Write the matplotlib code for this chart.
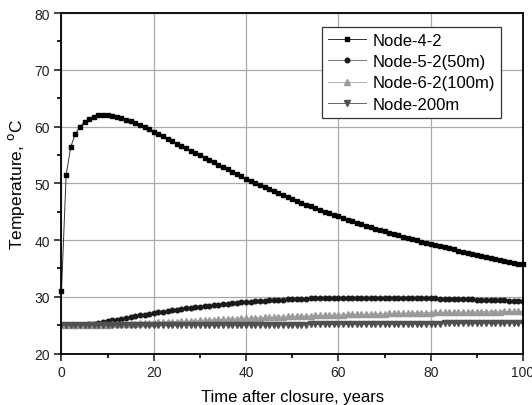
import matplotlib
matplotlib.use('Agg')
import matplotlib.pyplot as plt
from matplotlib.ticker import MultipleLocator
import numpy as np

plt.rcParams['font.family'] = ['Liberation Sans', 'DejaVu Sans']

years = np.arange(0, 101)

node_4_2 = [31.0, 51.4, 56.4, 58.7, 60.0, 60.85, 61.4, 61.75, 61.95, 62.0,
            61.95, 61.82, 61.64, 61.42, 61.17, 60.89, 60.58, 60.25, 59.9, 59.51,
            59.1, 58.68, 58.26, 57.84, 57.42, 57.0, 56.58, 56.16, 55.74, 55.32,
            54.9, 54.49, 54.08, 53.67, 53.26, 52.85, 52.44, 52.03, 51.62, 51.21,
            50.8, 50.42, 50.05, 49.68, 49.31, 48.95, 48.6, 48.25, 47.9, 47.56,
            47.23, 46.9, 46.57, 46.25, 45.94, 45.63, 45.32, 45.02, 44.73, 44.44,
            44.15, 43.87, 43.59, 43.32, 43.05, 42.79, 42.53, 42.27, 42.02, 41.77,
            41.53, 41.29, 41.05, 40.82, 40.59, 40.37, 40.15, 39.93, 39.72, 39.51,
            39.31, 39.11, 38.91, 38.72, 38.52, 38.33, 38.14, 37.95, 37.77, 37.58,
            37.4, 37.22, 37.04, 36.87, 36.69, 36.52, 36.35, 36.18, 36.02, 35.85,
            35.69]

node_5_2 = [25.0, 25.0, 25.0, 25.02, 25.05, 25.1, 25.18, 25.28, 25.4, 25.53,
            25.67, 25.82, 25.97, 26.12, 26.27, 26.42, 26.56, 26.7, 26.84, 26.97,
            27.1, 27.23, 27.36, 27.48, 27.6, 27.72, 27.83, 27.94, 28.04, 28.14,
            28.24, 28.34, 28.43, 28.52, 28.6, 28.68, 28.78, 28.86, 28.94, 29.02,
            29.09, 29.15, 29.21, 29.27, 29.32, 29.37, 29.42, 29.46, 29.5, 29.54,
            29.58, 29.61, 29.64, 29.67, 29.7, 29.72, 29.74, 29.76, 29.78, 29.79,
            29.8, 29.81, 29.82, 29.83, 29.83, 29.84, 29.84, 29.84, 29.84, 29.84,
            29.83, 29.83, 29.82, 29.81, 29.8, 29.79, 29.78, 29.77, 29.75, 29.74,
            29.72, 29.7, 29.68, 29.66, 29.64, 29.62, 29.6, 29.58, 29.56, 29.53,
            29.51, 29.49, 29.46, 29.44, 29.41, 29.39, 29.36, 29.34, 29.31, 29.29,
            29.26]

node_6_2 = [25.0, 25.0, 25.0, 25.0, 25.0, 25.01, 25.02, 25.03, 25.05, 25.07,
            25.09, 25.12, 25.15, 25.18, 25.21, 25.24, 25.28, 25.32, 25.36, 25.4,
            25.44, 25.48, 25.52, 25.56, 25.6, 25.64, 25.68, 25.72, 25.76, 25.8,
            25.84, 25.88, 25.92, 25.96, 26.0, 26.04, 26.08, 26.12, 26.15, 26.19,
            26.23, 26.26, 26.3, 26.33, 26.37, 26.4, 26.43, 26.46, 26.5, 26.53,
            26.56, 26.59, 26.62, 26.65, 26.67, 26.7, 26.73, 26.75, 26.78, 26.8,
            26.83, 26.85, 26.88, 26.9, 26.92, 26.94, 26.96, 26.98, 27.0, 27.02,
            27.04, 27.06, 27.08, 27.1, 27.12, 27.13, 27.15, 27.17, 27.18, 27.2,
            27.21, 27.23, 27.24, 27.26, 27.27, 27.28, 27.3, 27.31, 27.32, 27.33,
            27.35, 27.36, 27.37, 27.38, 27.39, 27.4, 27.41, 27.42, 27.43, 27.44,
            27.45]

node_200m = [25.0, 25.0, 25.0, 25.0, 25.0, 25.0, 25.0, 25.0, 25.0, 25.0,
             25.0, 25.0, 25.0, 25.0, 25.0, 25.0, 25.0, 25.0, 25.0, 25.0,
             25.0, 25.0, 25.0, 25.0, 25.0, 25.0, 25.0, 25.0, 25.0, 25.0,
             25.01, 25.01, 25.01, 25.02, 25.02, 25.02, 25.03, 25.03, 25.04, 25.04,
             25.05, 25.05, 25.06, 25.06, 25.07, 25.07, 25.08, 25.08, 25.09, 25.09,
             25.1, 25.1, 25.11, 25.11, 25.12, 25.12, 25.13, 25.13, 25.14, 25.14,
             25.15, 25.16, 25.16, 25.17, 25.17, 25.18, 25.18, 25.19, 25.2, 25.2,
             25.21, 25.21, 25.22, 25.23, 25.23, 25.24, 25.24, 25.25, 25.26, 25.26,
             25.27, 25.28, 25.28, 25.29, 25.3, 25.3, 25.31, 25.32, 25.32, 25.33,
             25.34, 25.34, 25.35, 25.36, 25.36, 25.37, 25.38, 25.38, 25.39, 25.4,
             25.4]

fig = plt.figure(figsize=(5.32, 4.06), dpi=100)
ax = fig.add_axes([0.1156, 0.1268, 0.8674, 0.8387])

ax.grid(True, color='#aaaaaa', linewidth=0.9, zorder=0)
ax.set_axisbelow(True)

ax.plot(years, node_4_2, color='#333333', linewidth=0.7, marker='s', markersize=3.3,
        markerfacecolor='black', markeredgecolor='black', label='Node-4-2', clip_on=False)
ax.plot(years, node_5_2, color='#777777', linewidth=0.7, marker='o', markersize=3.3,
        markerfacecolor='#1a1a1a', markeredgecolor='#1a1a1a', label='Node-5-2(50m)')
ax.plot(years, node_6_2, color='#b0b0b0', linewidth=0.7, marker='^', markersize=3.7,
        markerfacecolor='#9a9a9a', markeredgecolor='#9a9a9a', label='Node-6-2(100m)')
ax.plot(years, node_200m, color='#666666', linewidth=0.7, marker='v', markersize=3.7,
        markerfacecolor='#505050', markeredgecolor='#505050', label='Node-200m')

ax.set_xlim(0, 100)
ax.set_ylim(20, 80)
ax.xaxis.set_major_locator(MultipleLocator(20))
ax.xaxis.set_minor_locator(MultipleLocator(10))
ax.yaxis.set_major_locator(MultipleLocator(10))
ax.yaxis.set_minor_locator(MultipleLocator(5))

ax.tick_params(which='major', direction='out', length=5, width=1.2, labelsize=10, colors='#222222')
ax.tick_params(which='minor', direction='out', length=3, width=1.2)
ax.tick_params(top=False, right=False)
for s in ax.spines.values():
    s.set_linewidth(1.3)

ax.set_xlabel('Time after closure, years', fontsize=12, labelpad=7)
ax.set_ylabel('Temperature, $^\\mathrm{o}$C', fontsize=12.5, labelpad=5)

leg = ax.legend(loc='upper right', bbox_to_anchor=(0.953, 0.959), fontsize=12, frameon=True,
                fancybox=False, edgecolor='#333333', handlelength=2.3, handletextpad=0.4,
                labelspacing=0.38, borderpad=0.35, borderaxespad=0.0)
leg.get_frame().set_linewidth(0.9)
leg.get_frame().set_alpha(1)

fig.savefig('out.png', dpi=100)
